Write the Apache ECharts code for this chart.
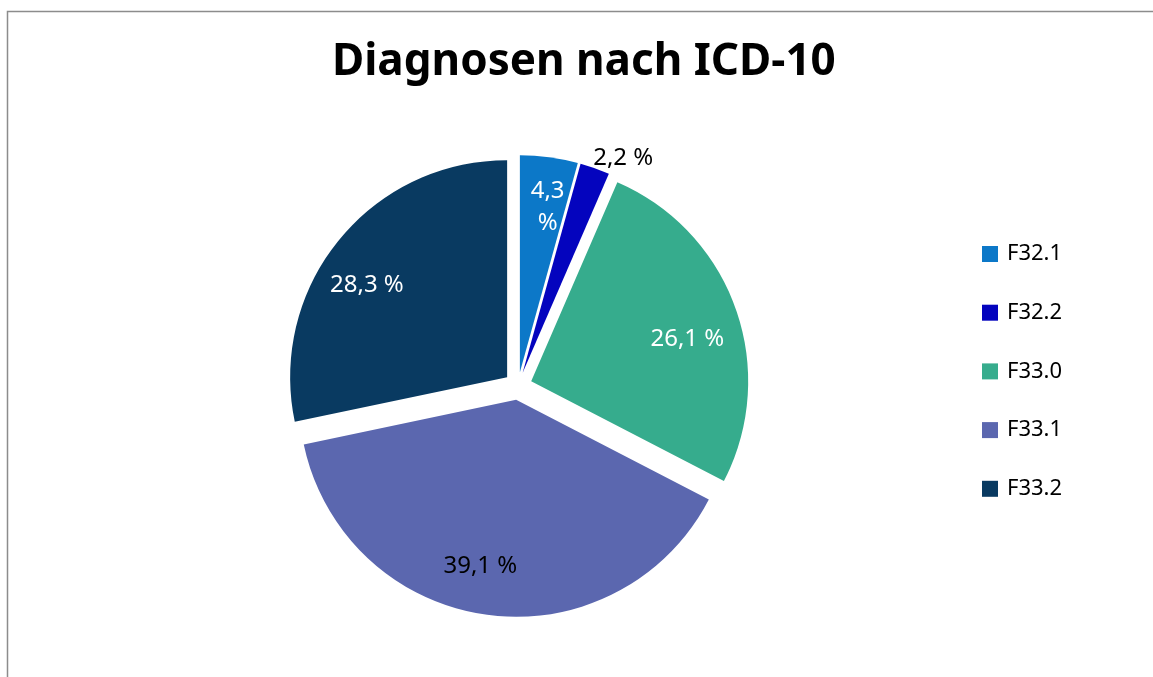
<!DOCTYPE html>
<html>
<head>
<meta charset="utf-8">
<script src="https://cdn.jsdelivr.net/npm/echarts@6/dist/echarts.min.js"></script>
<style>
html,body{margin:0;padding:0;background:#fff;}
#chart{width:1153px;height:677px;}
</style>
</head>
<body>
<div id="chart"></div>
<script>
const titleText = 'Diagnosen nach ICD-10';
const categories = ['F32.1', 'F32.2', 'F33.0', 'F33.1', 'F33.2'];
const values = [4.3, 2.2, 26.1, 39.1, 28.3];
const colors = ['#0C78C8', '#0404BE', '#36AC8D', '#5B67AF', '#093A61'];
const labelColors = ['#ffffff', '#000000', '#ffffff', '#000000', '#ffffff'];
// small "best fit" nudges of the value labels
const labelNudges = [[5, 2], [-8, -6], [-3, 15], [-13, -1], [-9, 14]];

const FONT = '"Noto Sans", "Open Sans", sans-serif';
const R = 217;
const OFFSET = 14;
const CENTER = [518, 386];

function fmt(v) { return v.toFixed(1).replace('.', ',') + ' %'; }
function nudge(params) {
  const n = labelNudges[params.dataIndex];
  return { dx: n[0], dy: n[1] };
}

const mainData = categories.map((c, i) => ({
  name: c,
  value: values[i],
  selected: true,
  itemStyle: { color: colors[i] },
  label: i === 1 ? {
    show: true, position: 'outside', color: '#000',
    fontSize: 24, fontFamily: FONT,
    formatter: () => fmt(values[i])
  } : { show: false },
  labelLine: { show: false }
}));

const overlayData = categories.map((c, i) => ({
  name: c,
  value: values[i],
  selected: true,
  itemStyle: { color: 'rgba(0,0,0,0)' },
  label: i === 1 ? { show: false } : {
    show: true, position: 'inside', color: labelColors[i],
    fontSize: 24, fontFamily: FONT, lineHeight: 32,
    formatter: () => i === 0 ? fmt(values[i]).replace(' ', '\n') : fmt(values[i])
  }
}));

const chart = echarts.init(document.getElementById('chart'), null, { renderer: 'canvas' });
chart.setOption({
  animation: false,
  backgroundColor: '#fff',
  title: {
    text: titleText,
    left: 332,
    top: 40,
    padding: 0,
    textStyle: { fontFamily: FONT, fontWeight: 'bold', fontSize: 44, color: '#000' }
  },
  graphic: [{
    type: 'rect',
    shape: { x: 7.5, y: 11.5, width: 1300, height: 800 },
    style: { fill: 'none', stroke: '#8c8c8c', lineWidth: 1.5 },
    silent: true
  }],
  legend: {
    orient: 'vertical',
    left: 982,
    top: 243,
    padding: 0,
    itemWidth: 16,
    itemHeight: 16,
    itemGap: 36.7,
    icon: 'rect',
    selectedMode: false,
    data: categories.map((c, i) => ({ name: c, itemStyle: { color: colors[i] } })),
    textStyle: { fontFamily: FONT, fontSize: 22, lineHeight: 22, color: '#000', padding: [0, 0, 0, 4] }
  },
  series: [{
    type: 'pie',
    center: CENTER,
    radius: [0, R],
    startAngle: 90,
    clockwise: true,
    selectedMode: 'multiple',
    selectedOffset: OFFSET,
    avoidLabelOverlap: false,
    emphasis: { disabled: true },
    labelLine: { show: false, length: 4, length2: 0 },
    labelLayout: nudge,
    itemStyle: { borderWidth: 0 },
    data: mainData
  }, {
    type: 'pie',
    center: CENTER,
    radius: [0, R * 1.53],
    startAngle: 90,
    clockwise: true,
    selectedMode: 'multiple',
    selectedOffset: OFFSET,
    avoidLabelOverlap: false,
    silent: true,
    emphasis: { disabled: true },
    labelLine: { show: false },
    labelLayout: nudge,
    data: overlayData
  }]
});
</script>
</body>
</html>
